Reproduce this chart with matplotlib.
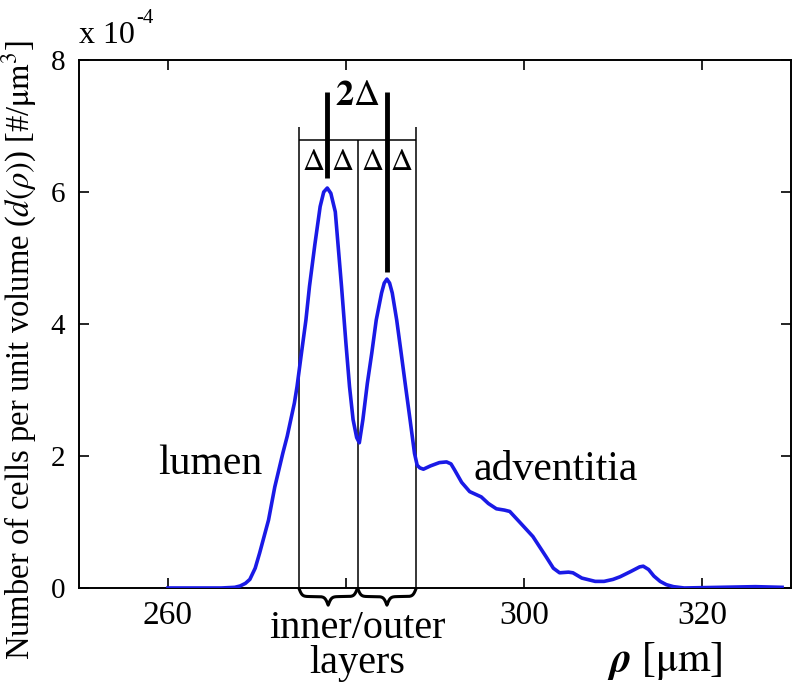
import numpy as np
import matplotlib.pyplot as plt

plt.rcParams['font.family'] = ['Liberation Serif', 'DejaVu Serif']
plt.rcParams['mathtext.fontset'] = 'stix'

# radial position rho [um] and cell density [x 1e-4 #/um^3]
rho = [260, 266, 267.5, 268.1, 268.7, 269.2, 269.8, 270.3, 270.8, 271.3, 272.0,
       272.9, 273.4, 273.8, 274.2, 274.5, 275.0, 275.5, 275.9, 276.5, 277.1,
       277.5, 277.9, 278.3, 278.8, 279.5, 280.0, 280.4, 280.8, 281.2, 281.5,
       281.9, 282.4, 282.9, 283.4, 284.0, 284.3, 284.6, 284.9, 285.2, 285.7,
       286.2, 286.7, 287.2, 287.7, 288.0, 288.3, 288.7, 289.5, 290.5, 291.3,
       291.8, 292.2, 293.0, 293.9, 295.2, 296.0, 296.9, 297.8, 298.4, 299.5,
       301.0, 302.5, 303.3, 304.0, 305.0, 305.5, 306.5, 308.0, 309.0, 310.0,
       310.8, 312.0, 313.0, 313.4, 314.0, 314.6, 315.3, 316.0, 316.8, 318.0,
       322.0, 326.0, 329.0]
density = [0.0, 0.0, 0.01, 0.03, 0.07, 0.13, 0.3, 0.53, 0.78, 1.03, 1.53,
           2.04, 2.3, 2.55, 2.8, 3.05, 3.56, 4.06, 4.57, 5.2, 5.78,
           6.0, 6.06, 5.98, 5.7, 4.57, 3.7, 3.05, 2.55, 2.28, 2.2,
           2.55, 3.1, 3.56, 4.06, 4.47, 4.62, 4.68, 4.62, 4.47, 4.06,
           3.56, 3.05, 2.55, 2.04, 1.86, 1.82, 1.8, 1.85, 1.9, 1.91,
           1.88, 1.79, 1.6, 1.46, 1.38, 1.28, 1.2, 1.18, 1.16, 1.0,
           0.78, 0.47, 0.3, 0.23, 0.24, 0.23, 0.15, 0.1, 0.1, 0.13,
           0.17, 0.25, 0.32, 0.33, 0.28, 0.18, 0.1, 0.05, 0.02, 0.0,
           0.01, 0.02, 0.01]

# layer boundaries and peak positions
bounds = [274.7, 281.3, 287.9]
peaks = [277.9, 284.6]
peak_heights = [6.06, 4.68]
xticks = [260, 280, 300, 320]
xticklabels = ['260', '', '300', '320']
yticks = [0, 2, 4, 6, 8]


def brace(ax, x0, x1, depth, beta=5.5, lw=2.2):
    """Downward curly brace below the x axis between x0 and x1"""
    n = 301
    x = np.linspace(x0, x1, n)
    xh = x[:n // 2 + 1]
    yh = 1 / (1 + np.exp(-beta * (xh - xh[0]))) + 1 / (1 + np.exp(-beta * (xh - xh[-1])))
    y = np.concatenate((yh, yh[-2::-1]))
    y = -(y - 0.5) * depth
    ax.plot(x, y, color='black', lw=lw, clip_on=False, solid_capstyle='butt')


fig = plt.figure(figsize=(7.96, 6.96), dpi=100)
ax = fig.add_axes([0.0992, 0.1552, 0.8945, 0.7586])

ax.plot(rho, density, color=(0.1, 0.1, 0.9), lw=2.6, zorder=3)

ax.set_xlim(250, 330)
ax.set_ylim(0, 8)
ax.set_xticks(xticks)
ax.set_xticklabels(xticklabels)
ax.set_yticks(yticks)
ax.tick_params(direction='in', length=7, width=1.2, top=True, right=True)
ax.tick_params(axis='x', labelsize=24, pad=9)
ax.tick_params(axis='y', labelsize=21, pad=10)
for s in ax.spines.values():
    s.set_linewidth(1.4)

ax.set_ylabel(r'Number of cells per unit volume ($d(\rho)$) [#/$\mathrm{\mu m}^3$]',
              fontsize=23.5)
ax.yaxis.set_label_coords(-0.056, 0.45)
ax.text(0.0, 1.032, 'x 10', transform=ax.transAxes, fontsize=23,
        ha='left', va='baseline')
ax.text(0.08, 1.07, '-4', transform=ax.transAxes, fontsize=15,
        ha='left', va='baseline')

# layer boxes
top_outer = 6.99
hline = 6.79
ax.vlines([bounds[0], bounds[2]], 0, top_outer, color='black', lw=1.1)
ax.vlines(bounds[1], 0, hline, color='black', lw=1.1)
ax.hlines(hline, bounds[0], bounds[2], color='black', lw=1.1)

# thick peak markers
ax.vlines(peaks[0], 6.21, 7.52, color='black', lw=3.5, zorder=4)
ax.vlines(peaks[1], peak_heights[1] + 0.11, 7.52, color='black', lw=3.5, zorder=4)
ax.text((peaks[0] + peaks[1]) / 2, 7.45, r'$\mathbf{2}\Delta$', fontsize=26,
        ha='center', va='center', fontweight='bold')

delta_x = [(bounds[0] + peaks[0]) / 2, (peaks[0] + bounds[1]) / 2,
           (bounds[1] + peaks[1]) / 2, (peaks[1] + bounds[2]) / 2]
for dx in delta_x:
    ax.text(dx, 6.44, r'$\Delta$', fontsize=22, ha='center', va='center')

# braces below axis
brace(ax, bounds[0], bounds[1], 0.26)
brace(ax, bounds[1], bounds[2], 0.26)

ax.text(bounds[1], -0.33, 'inner/outer\nlayers', fontsize=29, ha='center',
        va='top', linespacing=0.95, clip_on=False)
ax.text(264.8, 1.72, 'lumen', fontsize=30, ha='center', va='baseline')
ax.text(303.6, 1.63, 'adventitia', fontsize=30, ha='center', va='baseline')
ax.text(315.8, -1.1, r'$\boldsymbol{\rho}$ [$\mathrm{\mu m}$]', fontsize=30,
        ha='center', va='center', clip_on=False)

fig.savefig('out.png', dpi=100)
